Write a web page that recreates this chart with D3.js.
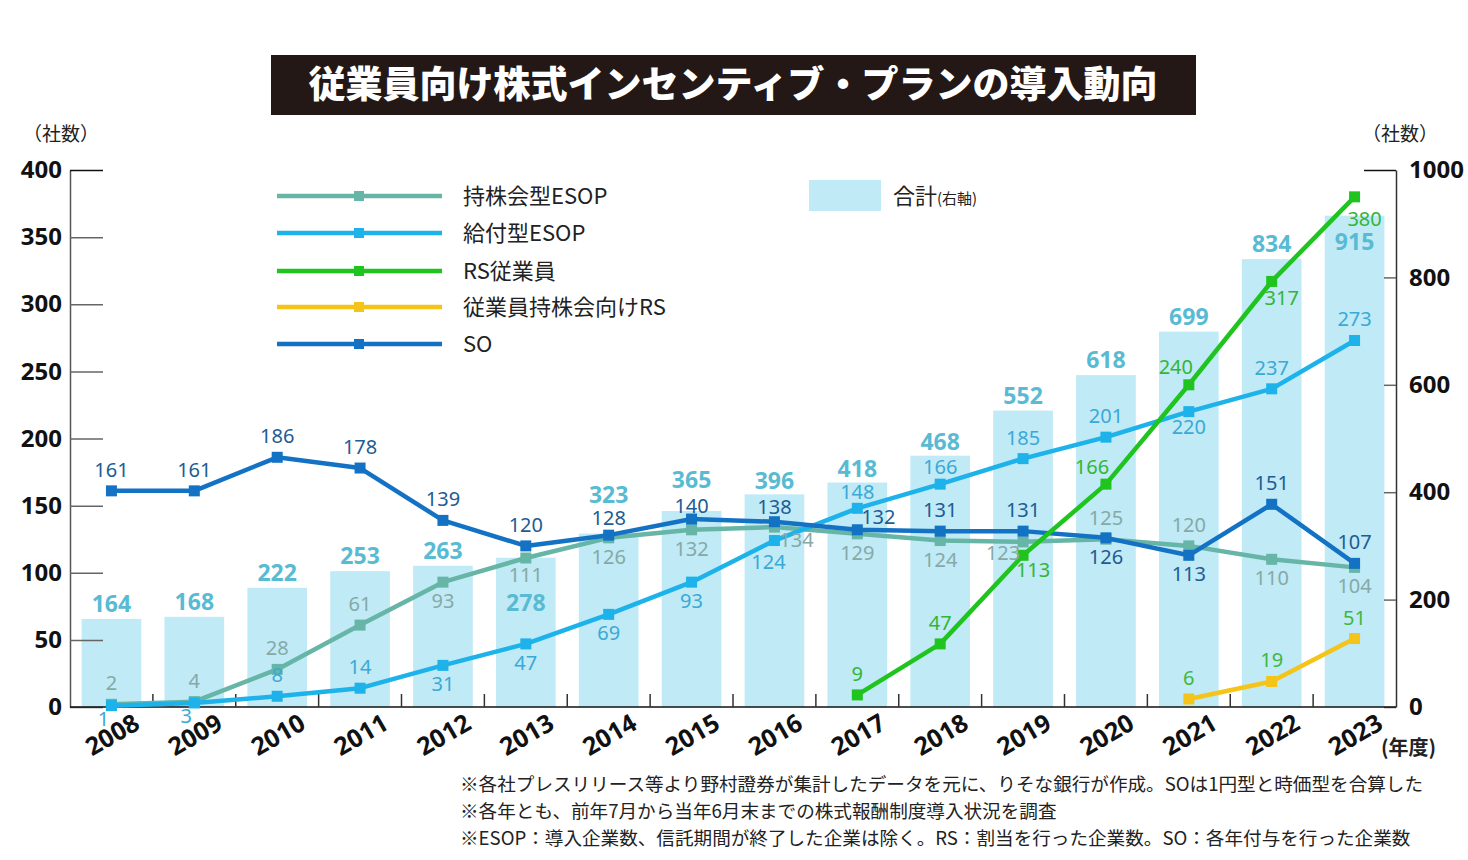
<!DOCTYPE html>
<html><head><meta charset="utf-8">
<script src="https://cdn.jsdelivr.net/npm/d3@7"></script>
<style>
body{margin:0;background:#fff;}
svg{display:block;}
.num{font-family:'Liberation Sans Narrow','Noto Sans',sans-serif;}
.jp{font-family:'Noto Sans CJK JP','Noto Sans',sans-serif;}
</style></head>
<body>
<svg id="c" width="1468" height="860"></svg>
<script>
// ---- data ----
const years = ["2008","2009","2010","2011","2012","2013","2014","2015","2016","2017","2018","2019","2020","2021","2022","2023"];
const totalValues = [164,168,222,253,263,278,323,365,396,418,468,552,618,699,834,915];
const esopHoldingValues = [2,4,28,61,93,111,126,132,134,129,124,123,125,120,110,104];
const esopBenefitValues = [1,3,8,14,31,47,69,93,124,148,166,185,201,220,237,273];
const rsEmployeeValues = [null,null,null,null,null,null,null,null,null,9,47,113,166,240,317,380];
const rsAssocValues = [null,null,null,null,null,null,null,null,null,null,null,null,null,6,19,51];
const soValues = [161,161,186,178,139,120,128,140,138,132,131,131,126,113,151,107];
const leftTicks = [0,50,100,150,200,250,300,350,400];
const rightTicks = [0,200,400,600,800,1000];
const seriesNames = ["持株会型ESOP","給付型ESOP","RS従業員","従業員持株会向けRS","SO"];
const totalName = "合計";
const titleText = "従業員向け株式インセンティブ・プランの導入動向";
const notes = [
 "※各社プレスリリース等より野村證券が集計したデータを元に、りそな銀行が作成。SOは1円型と時価型を合算した",
 "※各年とも、前年7月から当年6月末までの株式報酬制度導入状況を調査",
 "※ESOP：導入企業数、信託期間が終了した企業は除く。RS：割当を行った企業数。SO：各年付与を行った企業数"
];

// ---- label placement (style, not data): [dx, dy] per point ----
const A = [0,-14], B = [0,26];
const labelPos = {
  esopHolding: [A,A,A,A,B,[0,24],B,B,[22,20],B,B,[-20,18],A,A,B,B],
  esopBenefit: [[-8,20],[-8,20],A,A,B,B,B,B,[-6,28],[0,-9],[0,-10],A,A,[0,22],A,A],
  rsEmployee:  [null,null,null,null,null,null,null,null,null,A,A,[10,22],[-14,-10],[-13,-11],[10,24],[10,29]],
  rsAssoc:     [null,null,null,null,null,null,null,null,null,null,null,null,null,A,A,A],
  so:          [A,A,A,A,A,A,[0,-10],[0,-6],[0,-8],[21,-6],A,A,B,B,A,A]
};
const totalDy = [-7,-7,-7,-7,-7,53,-31,-23,-5,-6,-6,-7,-7,-7,-7,34];

// ---- scales ----
const svg = d3.select("#c");
const x = d3.scaleBand().domain(years).range([70,1396]).paddingInner(0.28).paddingOuter(0.14);
const yL = d3.scaleLinear().domain([0,400]).range([707,170]);
const yR = d3.scaleLinear().domain([0,1000]).range([707,170]);
const cx = d => x(d) + x.bandwidth()/2;
const step = x.step();

// ---- title ----
svg.append("rect").attr("x",271).attr("y",55).attr("width",925).attr("height",60).attr("fill","#231815");
svg.append("text").attr("class","jp").attr("x",733).attr("y",98).attr("text-anchor","middle")
  .attr("fill","#fff").attr("font-size",37).attr("font-weight",900).text(titleText);

// ---- bars ----
svg.append("g").selectAll("rect").data(years).join("rect")
  .attr("x", d => x(d)).attr("width", x.bandwidth())
  .attr("y", (d,i) => yR(totalValues[i])).attr("height", (d,i) => yR(0) - yR(totalValues[i]))
  .attr("fill","#bfeaf6");

// ---- axes ----
const gL = svg.append("g").attr("transform","translate(70,0)")
  .call(d3.axisLeft(yL).tickValues(leftTicks).tickSizeInner(-33).tickSizeOuter(0).tickPadding(8).tickFormat(d3.format("d")));
gL.select(".domain").attr("stroke","#555").attr("stroke-width",1.5);
gL.selectAll(".tick line").attr("stroke",(d)=> d===400 ? "#111" : "#666").attr("stroke-width",1.5);
gL.selectAll(".tick text").attr("class","num").attr("font-size",24).attr("font-weight",700).attr("fill","#111");

const gR = svg.append("g").attr("transform","translate(1396,0)")
  .call(d3.axisRight(yR).tickValues(rightTicks).tickSizeInner(-12).tickSizeOuter(0).tickPadding(13).tickFormat(d3.format("d")));
gR.select(".domain").attr("stroke","#333").attr("stroke-width",1.5);
gR.selectAll(".tick line").attr("stroke",d=> d===1000 ? "#111" : "#666").attr("stroke-width",1.5).attr("x2",d=> d===1000 ? -32 : -12);
gR.selectAll(".tick text").attr("class","num").attr("font-size",24).attr("font-weight",700).attr("fill","#111");

// x baseline and boundary ticks
svg.append("line").attr("x1",70).attr("x2",1396).attr("y1",707).attr("y2",707).attr("stroke","#111").attr("stroke-width",1.5);
svg.append("g").selectAll("line").data(years.slice(1)).join("line")
  .attr("x1", d => x(d) - step*0.14).attr("x2", d => x(d) - step*0.14)
  .attr("y1",707).attr("y2",694).attr("stroke","#333").attr("stroke-width",1.5);
svg.append("g").selectAll("text").data(years).join("text").attr("class","num")
  .attr("transform", d => `translate(${cx(d)+30},${728}) rotate(-30)`)
  .attr("text-anchor","end").attr("font-size",25).attr("font-weight",700).attr("fill","#111").text(d=>d);

svg.append("text").attr("class","jp").attr("x",23).attr("y",141).attr("font-size",19).attr("fill","#222").text("（社数）");
svg.append("text").attr("class","jp").attr("x",1362).attr("y",141).attr("font-size",19).attr("fill","#222").text("（社数）");
svg.append("text").attr("class","jp").attr("x",1381).attr("y",755).attr("font-size",20).attr("font-weight",700).attr("fill","#222").text("(年度)");

// ---- lines ----
const series = [
  {key:"esopHolding", vals:esopHoldingValues, color:"#66b5a6", lab:"#86a9a7"},
  {key:"esopBenefit", vals:esopBenefitValues, color:"#1db3ea", lab:"#3aa9d6"},
  {key:"so", vals:soValues, color:"#1372c4", lab:"#1d5c94"},
  {key:"rsAssoc", vals:rsAssocValues, color:"#f5c419", lab:"#3fb83f"},
  {key:"rsEmployee", vals:rsEmployeeValues, color:"#1fc41f", lab:"#35b535"}
];
const line = d3.line().defined(d => d.v != null).x(d => cx(d.y)).y(d => yL(d.v));
series.forEach(s => {
  const pts = years.map((y,i) => ({y, v:s.vals[i], i}));
  const g = svg.append("g");
  g.append("path").datum(pts).attr("d",line).attr("fill","none").attr("stroke",s.color).attr("stroke-width",4.5).attr("stroke-linejoin","round");
  g.selectAll("rect").data(pts.filter(d=>d.v!=null)).join("rect")
    .attr("x",d=>cx(d.y)-5.5).attr("y",d=>yL(d.v)-5.5).attr("width",11).attr("height",11).attr("fill",s.color);
  s.pts = pts;
});
// labels on top
series.forEach(s => {
  svg.append("g").selectAll("text").data(s.pts.filter(d=>d.v!=null)).join("text").attr("class","num")
    .attr("x",d=>cx(d.y)+labelPos[s.key][d.i][0]).attr("y",d=>yL(d.v)+labelPos[s.key][d.i][1])
    .attr("text-anchor","middle").attr("font-size",20).attr("fill",s.lab).text(d=>d.v);
});
// total labels
svg.append("g").selectAll("text").data(years).join("text").attr("class","num")
  .attr("x",d=>cx(d)).attr("y",(d,i)=>yR(totalValues[i])+totalDy[i])
  .attr("text-anchor","middle").attr("font-size",23).attr("font-weight",700).attr("fill","#58bbd3").text((d,i)=>totalValues[i]);

// ---- legend ----
const legendOrder = [0,1,4,3,2];
const legY = [196,233,271,307,344];
seriesNames.forEach((n,k) => {
  const s = series[legendOrder[k]];
  svg.append("line").attr("x1",277).attr("x2",442).attr("y1",legY[k]).attr("y2",legY[k]).attr("stroke",s.color).attr("stroke-width",4.5);
  svg.append("rect").attr("x",354).attr("y",legY[k]-5).attr("width",10).attr("height",10).attr("fill",s.color);
  svg.append("text").attr("class","jp").attr("x",463).attr("y",legY[k]+8).attr("font-size",22).attr("fill","#222").text(n);
});
svg.append("rect").attr("x",809).attr("y",180).attr("width",72).attr("height",31).attr("fill","#bfeaf6");
const tt = svg.append("text").attr("class","jp").attr("x",893).attr("y",204).attr("font-size",22).attr("fill","#222");
tt.append("tspan").text(totalName);
tt.append("tspan").attr("font-size",15).text("(右軸)");

// ---- notes ----
svg.append("g").selectAll("text").data(notes).join("text").attr("class","jp")
  .attr("x",460).attr("y",(d,i)=>791+i*27).attr("font-size",18.6).attr("fill","#222").text(d=>d);
</script>
</body></html>
